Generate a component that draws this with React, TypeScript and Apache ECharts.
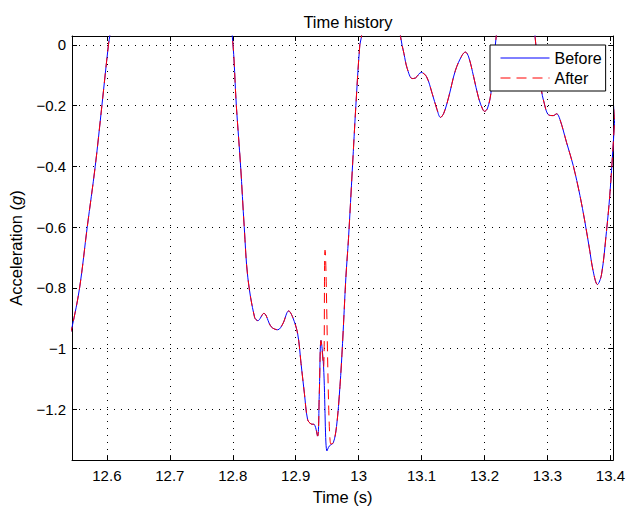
import React, { useEffect, useRef } from "react";
import * as echarts from "echarts";

// Time (s) and acceleration (g)
const time = [
  12.54, 12.5446, 12.5566, 12.5688, 12.5815, 12.5921, 12.6025, 12.6052, 12.612, 12.70, 12.79,
  12.7994, 12.8057, 12.8125, 12.8182, 12.824, 12.8347, 12.8399, 12.8494, 12.8611, 12.8715,
  12.8794, 12.8889, 12.8953, 12.9032, 12.9085, 12.9138, 12.919, 12.9244, 12.9296, 12.9348,
  12.9375, 12.9402, 12.9443, 12.9497, 12.9533, 12.9597, 12.9649, 12.9703, 12.9744, 12.9797,
  12.9839, 12.9902, 12.9956, 13.0019, 13.0044, 13.012, 13.035, 13.058, 13.0666, 13.072,
  13.0772, 13.0851, 13.0904, 13.0994, 13.1079, 13.1168, 13.1247, 13.13, 13.1353, 13.1432,
  13.1538, 13.1642, 13.1696, 13.1748, 13.1827, 13.1907, 13.1975, 13.2002, 13.2049, 13.2101,
  13.2144, 13.2187, 13.225, 13.25, 13.275, 13.2804, 13.2856, 13.2908, 13.2935, 13.3014,
  13.3093, 13.3146, 13.3199, 13.3304, 13.341, 13.3516, 13.3595, 13.3674, 13.3726, 13.3794,
  13.3858, 13.3937, 13.399, 13.4043, 13.408,
];
const before = [
  -0.96, -0.93, -0.801, -0.6, -0.4, -0.2, 0.0, 0.037, 0.15, 0.55, 0.15,
  0.025, -0.2, -0.4, -0.598, -0.767, -0.897, -0.908, -0.884, -0.928, -0.938,
  -0.919, -0.876, -0.897, -0.952, -1.049, -1.147, -1.234, -1.248, -1.25, -1.288,
  -1.147, -0.973, -1.06, -1.337, -1.321, -1.31, -1.256, -1.125, -0.984, -0.767,
  -0.637, -0.402, -0.2, 0.0, 0.025, 0.2, 0.45, 0.2, 0.027, -0.029,
  -0.078, -0.111, -0.109, -0.091, -0.105, -0.16, -0.214, -0.239, -0.225, -0.171,
  -0.084, -0.035, -0.024, -0.04, -0.105, -0.176, -0.214, -0.219, -0.208, -0.16,
  -0.061, 0.03, 0.15, 0.3, 0.15, 0.025, -0.078, -0.154, -0.181, -0.23,
  -0.233, -0.227, -0.246, -0.322, -0.398, -0.496, -0.583, -0.68, -0.745, -0.789,
  -0.757, -0.615, -0.496, -0.333, -0.2,
];
// "After" differs from "Before" only around the spike
const spikeFrom = 12.9443;
const spikeTo = 12.9597;
const afterSpikeTime = [12.9466, 12.9557];
const afterSpikeAcc = [-0.676, -1.314];

const xTicks = [12.6, 12.7, 12.8, 12.9, 13.0, 13.1, 13.2, 13.3, 13.4];
const yTicks = [-1.2, -1, -0.8, -0.6, -0.4, -0.2, 0];
const xMin = 12.5446;
const xMax = 13.4045;
const yMin = -1.367;
const yMax = 0.029;

const FONT = "Liberation Sans, Arial, sans-serif";

export default function App() {
  const ref = useRef<HTMLDivElement>(null);
  useEffect(() => {
    if (!ref.current) return;
    const chart = echarts.init(ref.current, undefined, { renderer: "svg" });
    const beforeData = time.map((t, i) => [t, before[i]]);
    const afterData: number[][] = [];
    time.forEach((t, i) => {
      if (t <= spikeFrom || t >= spikeTo) afterData.push([t, before[i]]);
      if (t === spikeFrom) {
        afterSpikeTime.forEach((st, j) => afterData.push([st, afterSpikeAcc[j]]));
      }
    });
    const fmt = (v: number) => String(+v.toFixed(2)).replace("-", "\u2212");
    const baseX = {
      type: "value" as const,
      min: xMin,
      max: xMax,
      axisLine: { show: true, onZero: false, lineStyle: { color: "#000", width: 1 } },
      axisTick: { show: true, inside: true, length: 5, customValues: xTicks, lineStyle: { color: "#000" } },
    };
    const baseY = {
      type: "value" as const,
      min: yMin,
      max: yMax,
      axisLine: { show: true, onZero: false, lineStyle: { color: "#000", width: 1 } },
      axisTick: { show: true, inside: true, length: 5, customValues: yTicks, lineStyle: { color: "#000" } },
    };
    chart.setOption({
      animation: false,
      backgroundColor: "#fff",
      title: {
        text: "Time history",
        left: 343,
        top: 8,
        textAlign: "center",
        textStyle: { fontFamily: FONT, fontSize: 16.5, fontWeight: "normal", color: "#000" },
      },
      grid: { left: 72, right: 13, top: 36, bottom: 46 },
      xAxis: [
        {
          ...baseX,
          position: "bottom",
          name: "Time (s)",
          nameLocation: "middle",
          nameGap: 25,
          nameTextStyle: { fontFamily: FONT, fontSize: 16.5, color: "#000" },
          axisLabel: {
            show: true,
            customValues: xTicks,
            margin: 8,
            fontFamily: FONT,
            fontSize: 15,
            color: "#000",
            formatter: fmt,
          },
          splitLine: { show: true, lineStyle: { color: "#000", width: 1, type: [1, 6] } },
        },
        {
          ...baseX,
          position: "top",
          axisLabel: { show: false },
          splitLine: { show: false },
        },
      ],
      yAxis: [
        {
          ...baseY,
          position: "left",
          axisLabel: {
            show: true,
            customValues: yTicks,
            margin: 6,
            fontFamily: FONT,
            fontSize: 15,
            color: "#000",
            formatter: fmt,
          },
          splitLine: { show: true, lineStyle: { color: "#000", width: 1, type: [1, 6] } },
        },
        {
          ...baseY,
          position: "right",
          axisLabel: { show: false },
          splitLine: { show: false },
        },
      ],
      legend: {
        orient: "vertical",
        left: 490,
        top: 45,
        z: 10,
        padding: [5, 4, 5, 10],
        itemWidth: 49,
        itemHeight: 14,
        itemGap: 4,
        backgroundColor: "#fff",
        borderColor: "#000",
        borderWidth: 1,
        borderRadius: 0,
        itemStyle: { opacity: 0, borderWidth: 0 },
        lineStyle: { width: 1 },
        textStyle: { fontFamily: FONT, fontSize: 16, color: "#000", lineHeight: 16 },
        data: ["Before", "After"],
      },
      graphic: [
        {
          type: "text",
          x: 16,
          y: 248,
          rotation: Math.PI / 2,
          style: {
            text: "{n|Acceleration (}{i|g}{n|)}",
            align: "center",
            verticalAlign: "middle",
            rich: {
              n: { fontFamily: FONT, fontSize: 16.5, fill: "#000" },
              i: { fontFamily: FONT, fontSize: 16.5, fontStyle: "italic", fill: "#000" },
            },
          },
        },
      ],
      series: [
        {
          name: "Before",
          type: "line",
          data: beforeData,
          symbol: "none",
          smooth: 0.35,
          clip: true,
          lineStyle: { color: "#0000ff", width: 1 },
          itemStyle: { color: "#0000ff" },
        },
        {
          name: "After",
          type: "line",
          data: afterData,
          symbol: "none",
          smooth: 0.35,
          clip: true,
          lineStyle: { color: "#ff0000", width: 1, type: [10, 6] },
          itemStyle: { color: "#ff0000" },
        },
      ],
    });
    return () => chart.dispose();
  }, []);
  return (
    <div
      ref={ref}
      style={{ position: "absolute", left: 0, top: 0, width: 628, height: 510 }}
    />
  );
}
